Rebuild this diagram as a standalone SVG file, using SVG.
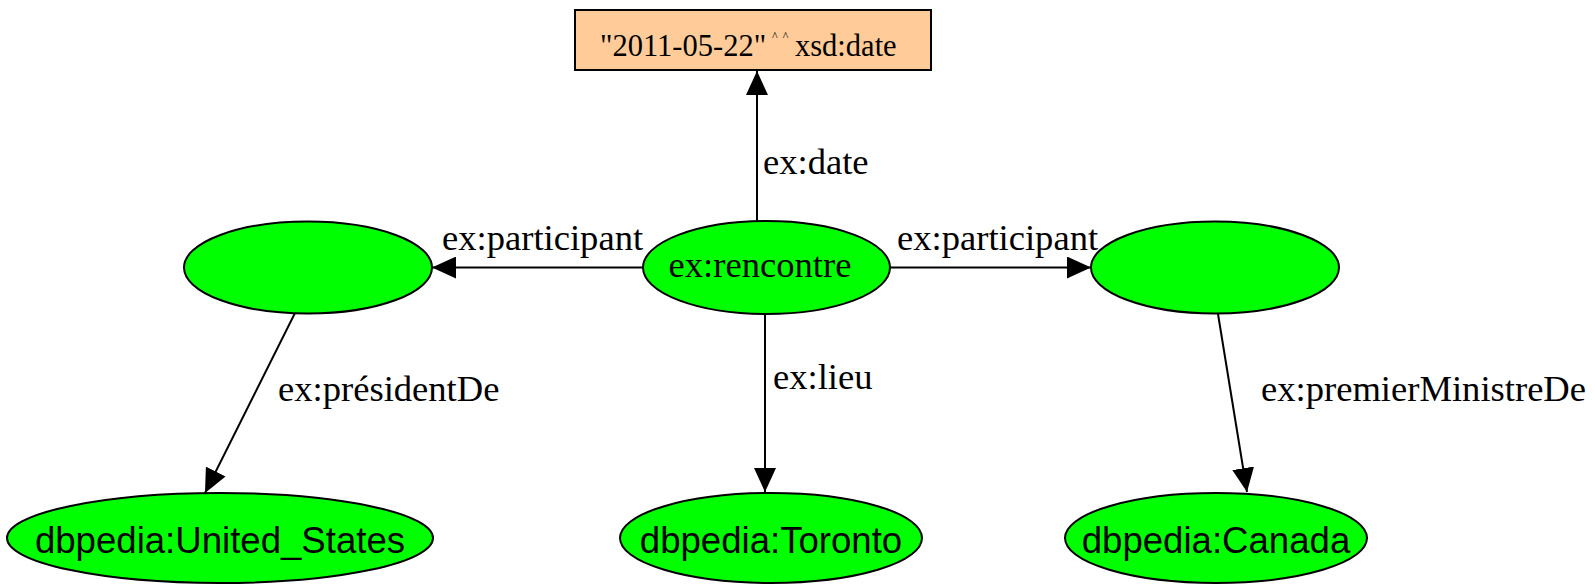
<svg xmlns="http://www.w3.org/2000/svg" width="1595" height="584" viewBox="0 0 1595 584">
  <style>
    .res { fill: #00ff00; stroke: #000; stroke-width: 2; }
    .lit { fill: #ffcc99; stroke: #000; stroke-width: 2; }
    .edge { fill: none; stroke: #000; stroke-width: 2; }
    .serif { font-family: "Liberation Serif", "Times New Roman", serif; font-size: 36.6px; fill: #000; }
    .sans { font-family: "Liberation Sans", Arial, sans-serif; font-size: 36.6px; fill: #000; }
    .literal { font-size: 30.5px; }
    .hat { font-size: 12px; letter-spacing: 5px; }
  </style>
  <defs>
    <marker id="arrow" viewBox="0 0 24 22" refX="24" refY="11" markerWidth="24" markerHeight="22" markerUnits="userSpaceOnUse" orient="auto">
      <path d="M0,0 L24,11 L0,22 z" fill="#000"/>
    </marker>
  </defs>

  <!-- edges -->
  <g id="edges">
    <line class="edge" x1="757" y1="221" x2="757" y2="71" marker-end="url(#arrow)"/>
    <text class="serif" x="763" y="174">ex:date</text>

    <line class="edge" x1="643" y1="267.5" x2="432" y2="267.5" marker-end="url(#arrow)"/>
    <text class="serif" x="442" y="250">ex:participant</text>

    <line class="edge" x1="890" y1="267.5" x2="1091" y2="267.5" marker-end="url(#arrow)"/>
    <text class="serif" x="897" y="250">ex:participant</text>

    <line class="edge" x1="765" y1="314" x2="765" y2="492" marker-end="url(#arrow)"/>
    <text class="serif" x="773" y="389">ex:lieu</text>

    <line class="edge" x1="295" y1="313" x2="205" y2="493" marker-end="url(#arrow)"/>
    <text class="serif" x="278" y="401">ex:présidentDe</text>

    <line class="edge" x1="1218" y1="314" x2="1247" y2="492" marker-end="url(#arrow)"/>
    <text class="serif" x="1261" y="401">ex:premierMinistreDe</text>
  </g>

  <!-- nodes -->
  <g id="node-date">
    <rect class="lit" x="575" y="10" width="356" height="60"/>
    <text class="serif literal" y="56"><tspan x="600">"2011-05-22"</tspan><tspan class="hat" x="772" y="40">^^</tspan><tspan x="795" y="56">xsd:date</tspan></text>
  </g>

  <g id="node-rencontre">
    <ellipse class="res" cx="766.5" cy="267.5" rx="123.5" ry="46.5"/>
    <text class="serif" x="760" y="277" text-anchor="middle">ex:rencontre</text>
  </g>

  <g id="node-blank-left">
    <ellipse class="res" cx="308" cy="267.5" rx="124" ry="46"/>
  </g>

  <g id="node-blank-right">
    <ellipse class="res" cx="1215" cy="267.5" rx="124" ry="46"/>
  </g>

  <g id="node-united-states">
    <ellipse class="res" cx="220" cy="538" rx="213" ry="45"/>
    <text class="sans" x="220" y="553" text-anchor="middle">dbpedia:United_States</text>
  </g>

  <g id="node-toronto">
    <ellipse class="res" cx="771" cy="538" rx="151" ry="45"/>
    <text class="sans" x="771" y="553" text-anchor="middle">dbpedia:Toronto</text>
  </g>

  <g id="node-canada">
    <ellipse class="res" cx="1216" cy="538" rx="151" ry="45"/>
    <text class="sans" x="1216" y="553" text-anchor="middle">dbpedia:Canada</text>
  </g>
</svg>
